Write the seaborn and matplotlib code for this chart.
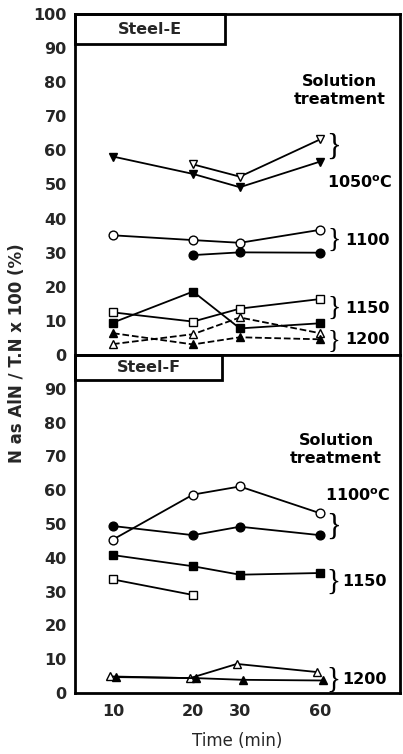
import numpy as np
import pandas as pd
import matplotlib
matplotlib.use("Agg")
import matplotlib.pyplot as plt
import matplotlib.transforms as mtransforms
from matplotlib.patches import Rectangle
import seaborn as sns

sns.set_theme(style="white")
plt.rcParams['font.family'] = ['DejaVu Sans']

# ---------------- data ----------------
times = [10, 20, 30, 60]
nan = np.nan

# Steel-E
E_1050_filled = [58.2, 53.1, 49.2, 56.7]
E_1050_open = [nan, 55.9, 52.3, 63.2]
E_1100_open = [35.1, 33.7, 32.9, 36.7]
E_1100_filled = [nan, 29.3, 30.1, 30.0]
E_1150_open = [12.5, 9.8, 13.6, 16.4]
E_1150_filled = [9.5, 18.6, 7.8, 9.3]
E_1200_open = [3.2, 6.1, 11.0, 6.4]
E_1200_filled = [6.4, 3.1, 5.2, 4.6]

# Steel-F
F_1100_open = [45.4, 58.7, 61.1, 53.2]
F_1100_filled = [49.4, 46.7, 49.2, 46.7]
F_1150_filled = [40.8, 37.5, 35.0, 35.5]
F_1150_open = [33.6, 29.0, nan, nan]
F_1200_open = [4.9, 4.4, 8.6, 6.2]
F_1200_filled = [4.7, 4.4, 3.9, 3.7]

yticks_E = [0, 10, 20, 30, 40, 50, 60, 70, 80, 90, 100]
yticks_F = [0, 10, 20, 30, 40, 50, 60, 70, 80, 90]
xtick_labels = ["10", "20", "30", "60"]

# (values, marker, filled, linestyle, dodge_px)
series_E = [
    (E_1050_filled, "v", True, "-", 0),
    (E_1050_open, "v", False, "-", 0),
    (E_1100_open, "o", False, "-", 0),
    (E_1100_filled, "o", True, "-", 0),
    (E_1150_open, "s", False, "-", 0),
    (E_1150_filled, "s", True, "-", 0),
    (E_1200_open, "^", False, "--", 0),
    (E_1200_filled, "^", True, "--", 0),
]
series_F = [
    (F_1100_open, "o", False, "-", 0),
    (F_1100_filled, "o", True, "-", 0),
    (F_1150_filled, "s", True, "-", 0),
    (F_1150_open, "s", False, "-", 0),
    (F_1200_open, "^", False, "-", -3),
    (F_1200_filled, "^", True, "-", 3),
]

W, H = 403, 754
fig = plt.figure(figsize=(W / 100, H / 100), dpi=100)
left_px, right_px = 75, 400
axE = fig.add_axes([left_px / W, 1 - 355 / H, (right_px - left_px) / W, (355 - 14) / H])
axF = fig.add_axes([left_px / W, 1 - 693 / H, (right_px - left_px) / W, (693 - 355) / H])

FS = 11.5
num_font = dict(fontsize=FS, fontweight="bold")


def draw(ax, series):
    for vals, mk, filled, ls, dodge in series:
        df = pd.DataFrame({"time": times, "value": vals}).dropna()
        sns.lineplot(data=df, x="time", y="value", ax=ax, color="black",
                     linestyle=ls, linewidth=1.3, marker=mk,
                     markersize=6.3 if mk != "s" else 5.8,
                     markerfacecolor="black" if filled else "white",
                     markeredgecolor="black", markeredgewidth=1.0,
                     dashes=False if ls == "-" else (3, 2.5), legend=False)
        if dodge:
            line = ax.lines[-1]
            line.set_transform(line.get_transform() +
                               mtransforms.ScaledTranslation(dodge / 100, 0, fig.dpi_scale_trans))
    ax.set_xscale("log")
    ax.set_xlim(7.2, 120)
    ax.set_ylim(0, 100)
    ax.set_xticks(times)
    ax.minorticks_off()
    ax.set_xlabel("")
    ax.set_ylabel("")
    for s in ax.spines.values():
        s.set_linewidth(2)
        s.set_color("black")
    ax.tick_params(axis="x", direction="in", length=5, width=1.5, color="black", pad=8)
    ax.tick_params(axis="y", direction="out", length=3, width=1.5, color="black", pad=3)


draw(axE, series_E)
draw(axF, series_F)

axE.set_yticks(yticks_E)
axE.set_yticklabels([str(v) for v in yticks_E], **num_font)
axE.set_xticklabels([])
axF.set_yticks(yticks_F)
axF.set_yticklabels([str(v) for v in yticks_F], **num_font)
axF.set_xticklabels(xtick_labels, **num_font)

# panel boxes
for ax, label, bw, bh in [(axE, "Steel-E", 0.46, 0.088), (axF, "Steel-F", 0.452, 0.074)]:
    ax.add_patch(Rectangle((0, 1 - bh), bw, bh, transform=ax.transAxes, fill=False,
                           edgecolor="black", linewidth=2, clip_on=False, zorder=5))
    ax.text(bw / 2, 1 - bh / 2, label, transform=ax.transAxes, ha="center", va="center",
            fontsize=FS, fontweight="bold")

txt = dict(fontsize=FS, fontweight="bold", color="black")
brace = dict(ha="center", va="center", fontweight="normal", color="black",
             family=["Liberation Serif", "DejaVu Serif"])

# annotations Steel-E
axE.text(0.813, 0.777, "Solution\ntreatment", transform=axE.transAxes, ha="center", va="center",
         linespacing=1.25, **txt)
axE.text(0.775, 0.505, "1050$^{\\mathbf{o}}$C", transform=axE.transAxes, ha="left", va="center", **txt)
axE.text(0.83, 0.337, "1100", transform=axE.transAxes, ha="left", va="center", **txt)
axE.text(0.83, 0.137, "1150", transform=axE.transAxes, ha="left", va="center", **txt)
axE.text(0.83, 0.044, "1200", transform=axE.transAxes, ha="left", va="center", **txt)
for y, s in [(0.61, 22), (0.337, 20), (0.137, 20), (0.044, 19)]:
    axE.text(0.797, y, "}", transform=axE.transAxes, fontsize=s, **brace)

# annotations Steel-F
axF.text(0.803, 0.719, "Solution\ntreatment", transform=axF.transAxes, ha="center", va="center",
         linespacing=1.25, **txt)
axF.text(0.77, 0.585, "1100$^{\\mathbf{o}}$C", transform=axF.transAxes, ha="left", va="center", **txt)
axF.text(0.822, 0.33, "1150", transform=axF.transAxes, ha="left", va="center", **txt)
axF.text(0.822, 0.04, "1200", transform=axF.transAxes, ha="left", va="center", **txt)
for y, s in [(0.49, 22), (0.33, 21), (0.04, 21)]:
    axF.text(0.795, y, "}", transform=axF.transAxes, fontsize=s, **brace)

fig.text(17 / W, 1 - 353 / H, "N as AlN / T.N x 100 (%)", rotation=90, ha="center", va="center",
         fontsize=FS + 0.5, fontweight="bold")
fig.text(237 / W, 1 - 741 / H, "Time (min)", ha="center", va="center", fontsize=FS + 0.5)

fig.savefig("out.png", dpi=100, facecolor="white")
